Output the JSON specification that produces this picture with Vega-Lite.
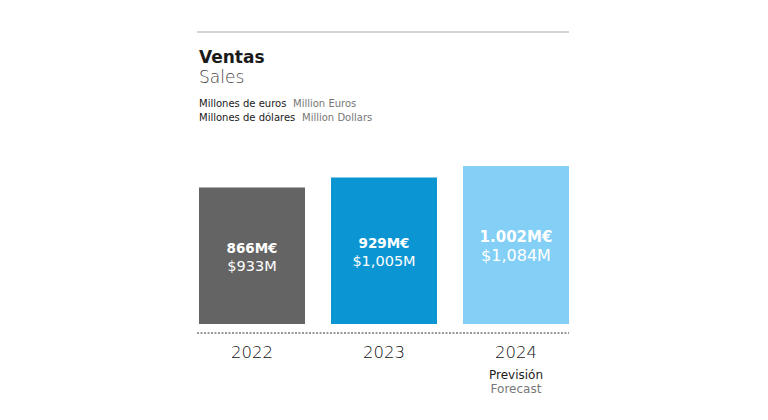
{
  "$schema": "https://vega.github.io/schema/vega-lite/v6.json",
  "autosize": "none",
  "width": 370,
  "height": 184,
  "padding": {"left": 199, "top": 140, "right": 199, "bottom": 96},
  "background": "white",
  "config": {"view": {"stroke": null}, "font": "DejaVu Sans"},
  "data": {
    "values": [
      {"year": "2022", "eur": 866, "eurLabel": "866M€", "usdLabel": "$933M", "note": "", "note2": ""},
      {"year": "2023", "eur": 929, "eurLabel": "929M€", "usdLabel": "$1,005M", "note": "", "note2": ""},
      {"year": "2024", "eur": 1002, "eurLabel": "1.002M€", "usdLabel": "$1,084M", "note": "Previsión", "note2": "Forecast"}
    ]
  },
  "encoding": {
    "x": {
      "field": "year",
      "type": "nominal",
      "scale": {"paddingInner": 0.197, "paddingOuter": 0},
      "axis": {
        "title": null,
        "domain": false,
        "ticks": false,
        "labelAngle": 0,
        "labelFontSize": 16.5,
        "labelFontWeight": 200,
        "labelColor": "#111111",
        "labelPadding": 20,
        "labelFont": "DejaVu Sans"
      }
    }
  },
  "layer": [
    {
      "mark": {"type": "bar"},
      "encoding": {
        "y": {"field": "eur", "type": "quantitative", "scale": {"domain": [0, 1167]}, "axis": null},
        "color": {
          "field": "year",
          "type": "nominal",
          "scale": {"domain": ["2022", "2023", "2024"], "range": ["#646464", "#0B95D3", "#84CFF5"]},
          "legend": null
        }
      }
    },
    {
      "transform": [{"filter": "datum.year !== '2024'"}, {"calculate": "datum.eur / 2", "as": "mid"}],
      "mark": {"type": "text", "fontWeight": "bold", "fontSize": 13.5, "color": "white", "dy": -7, "baseline": "middle"},
      "encoding": {
        "y": {"field": "mid", "type": "quantitative", "scale": {"domain": [0, 1167]}},
        "text": {"field": "eurLabel"}
      }
    },
    {
      "transform": [{"filter": "datum.year !== '2024'"}, {"calculate": "datum.eur / 2", "as": "mid"}],
      "mark": {"type": "text", "fontWeight": "normal", "fontSize": 14.5, "color": "white", "dy": 11, "baseline": "middle"},
      "encoding": {
        "y": {"field": "mid", "type": "quantitative", "scale": {"domain": [0, 1167]}},
        "text": {"field": "usdLabel"}
      }
    },
    {
      "transform": [{"filter": "datum.year === '2024'"}, {"calculate": "datum.eur / 2", "as": "mid"}],
      "mark": {"type": "text", "fontWeight": "bold", "fontSize": 15, "color": "white", "dy": -8, "baseline": "middle"},
      "encoding": {
        "y": {"field": "mid", "type": "quantitative", "scale": {"domain": [0, 1167]}},
        "text": {"field": "eurLabel"}
      }
    },
    {
      "transform": [{"filter": "datum.year === '2024'"}, {"calculate": "datum.eur / 2", "as": "mid"}],
      "mark": {"type": "text", "fontWeight": "normal", "fontSize": 16, "color": "white", "dy": 11, "baseline": "middle"},
      "encoding": {
        "y": {"field": "mid", "type": "quantitative", "scale": {"domain": [0, 1167]}},
        "text": {"field": "usdLabel"}
      }
    },
    {
      "mark": {"type": "text", "fontSize": 12, "color": "#1a1a1a", "baseline": "middle", "dy": 1},
      "encoding": {"y": {"value": 234}, "text": {"field": "note"}}
    },
    {
      "mark": {"type": "text", "fontSize": 12, "color": "#777777", "baseline": "middle", "dy": 1},
      "encoding": {"y": {"value": 248}, "text": {"field": "note2"}}
    },
    {
      "data": {"values": [{"a": 1}]},
      "mark": {"type": "rule", "color": "#333333", "strokeDash": [2, 1.5], "strokeWidth": 1},
      "encoding": {"y": {"value": 193}, "x": {"value": -2}, "x2": {"value": 370}}
    },
    {
      "data": {"values": [{"a": 1}]},
      "mark": {"type": "rule", "color": "#a8a8a8", "strokeWidth": 1},
      "encoding": {"y": {"value": -108}, "x": {"value": -2}, "x2": {"value": 370}}
    },
    {
      "data": {"values": [{"t": "Ventas"}]},
      "mark": {"type": "text", "fontSize": 17, "fontWeight": "bold", "color": "#1a1a1a", "align": "left", "baseline": "alphabetic"},
      "encoding": {"x": {"value": 0}, "y": {"value": -77}, "text": {"field": "t"}}
    },
    {
      "data": {"values": [{"t": "Sales"}]},
      "mark": {"type": "text", "fontSize": 17, "fontWeight": 200, "color": "#444444", "align": "left", "baseline": "alphabetic"},
      "encoding": {"x": {"value": 0}, "y": {"value": -57}, "text": {"field": "t"}}
    },
    {
      "data": {"values": [{"t": "Millones de euros"}]},
      "mark": {"type": "text", "fontSize": 10, "color": "#1a1a1a", "align": "left", "baseline": "alphabetic"},
      "encoding": {"x": {"value": 0}, "y": {"value": -33}, "text": {"field": "t"}}
    },
    {
      "data": {"values": [{"t": "Millones de dólares"}]},
      "mark": {"type": "text", "fontSize": 10, "color": "#1a1a1a", "align": "left", "baseline": "alphabetic"},
      "encoding": {"x": {"value": 0}, "y": {"value": -19}, "text": {"field": "t"}}
    },
    {
      "data": {"values": [{"t": "Million Euros"}]},
      "mark": {"type": "text", "fontSize": 10, "color": "#777777", "align": "left", "baseline": "alphabetic"},
      "encoding": {"x": {"value": 94}, "y": {"value": -33}, "text": {"field": "t"}}
    },
    {
      "data": {"values": [{"t": "Million Dollars"}]},
      "mark": {"type": "text", "fontSize": 10, "color": "#777777", "align": "left", "baseline": "alphabetic"},
      "encoding": {"x": {"value": 103}, "y": {"value": -19}, "text": {"field": "t"}}
    }
  ]
}
